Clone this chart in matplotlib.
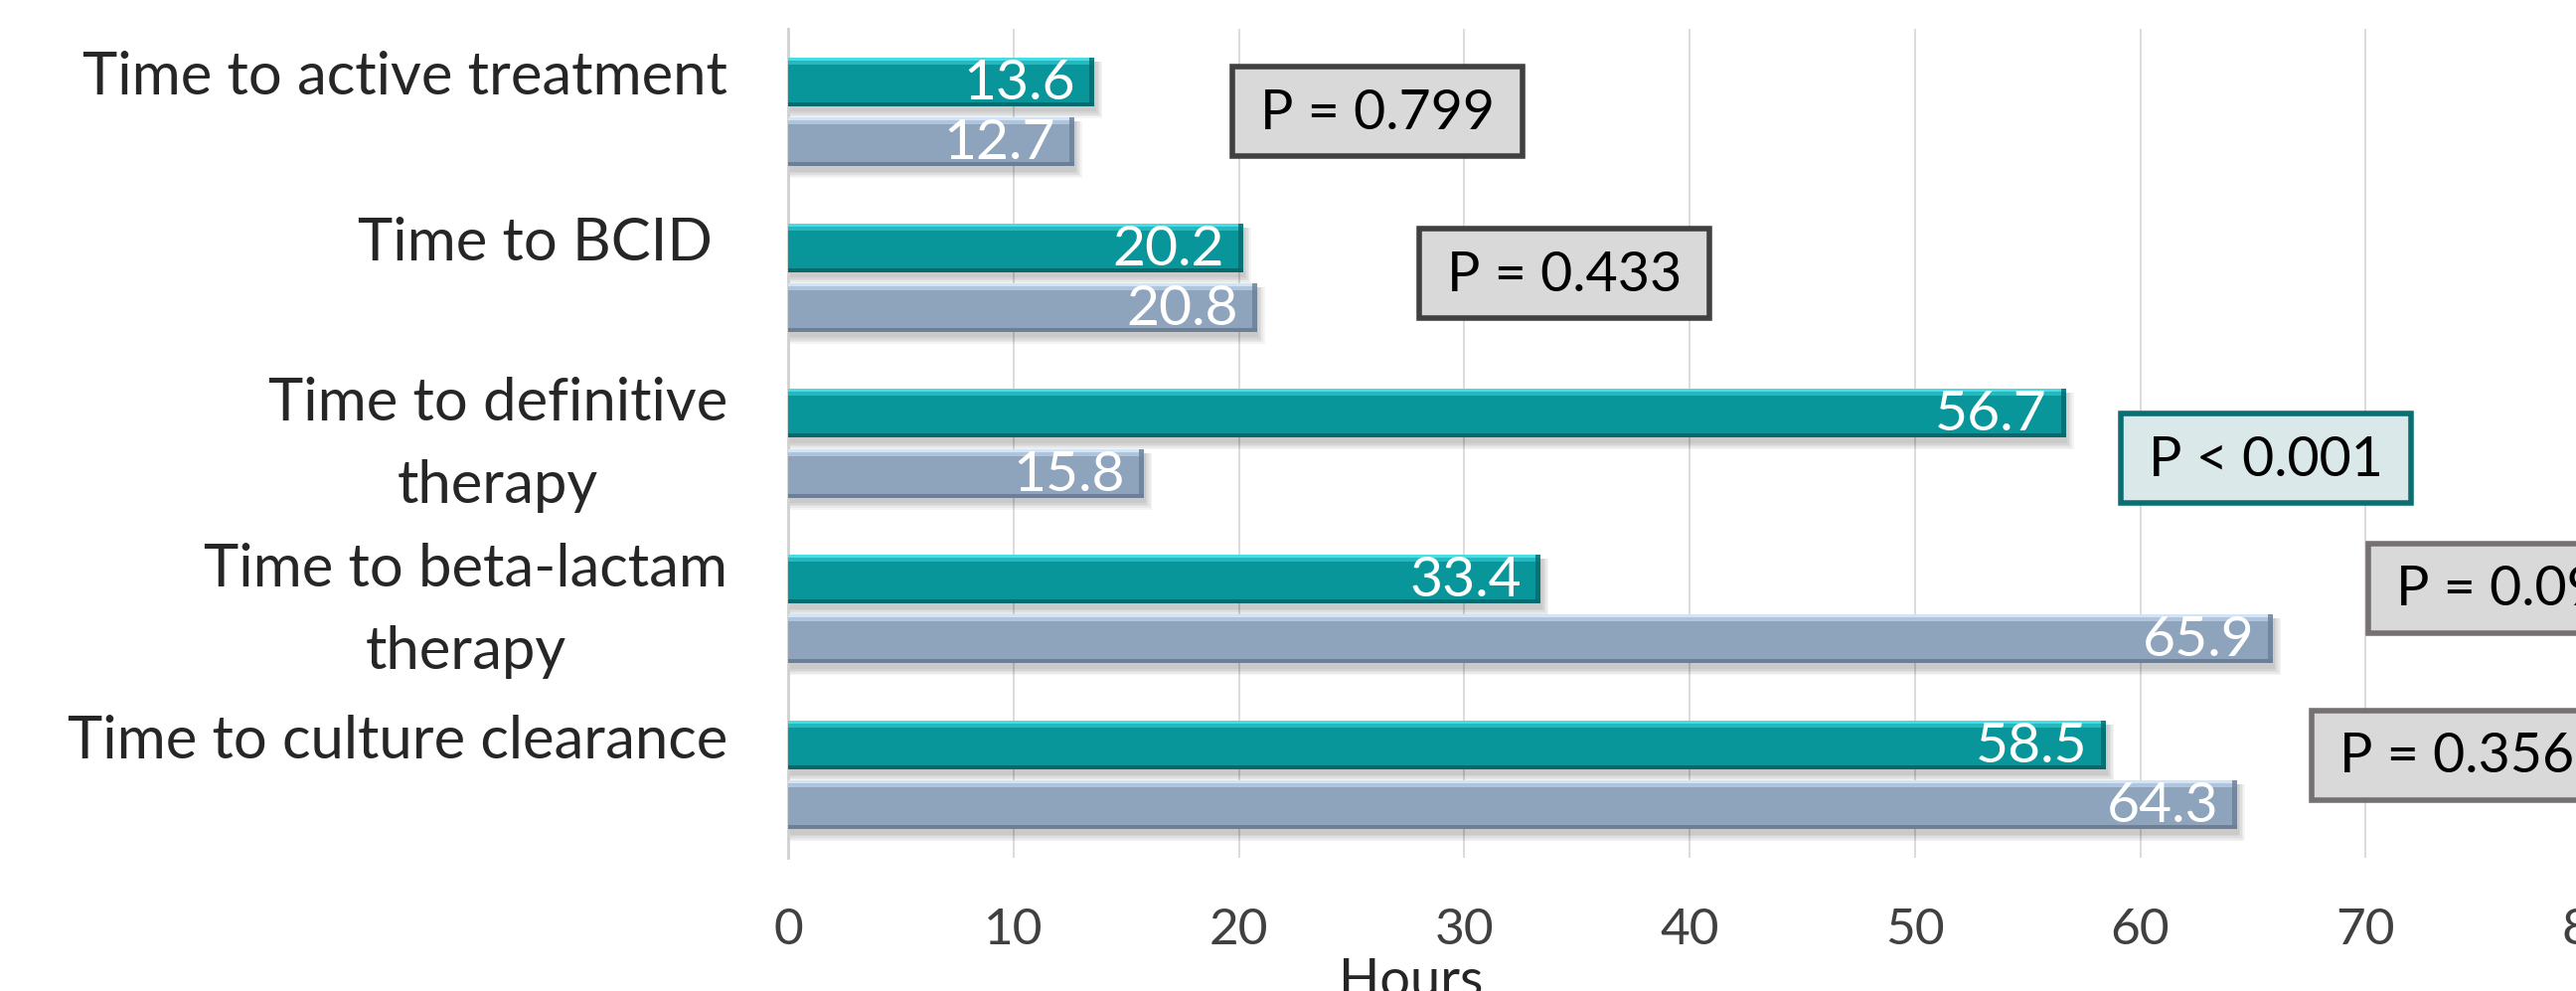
import numpy as np
import matplotlib.pyplot as plt
from matplotlib.patches import Rectangle

# hours per outcome, two groups
categories = ["Time to active treatment", "Time to BCID ", "Time to definitive\ntherapy",
              "Time to beta-lactam\ntherapy", "Time to culture clearance"]
teal_hours = [13.6, 20.2, 56.7, 33.4, 58.5]
gray_hours = [12.7, 20.8, 15.8, 65.9, 64.3]
p_labels = ["P = 0.799", "P = 0.433", "P < 0.001", "P = 0.09", "P = 0.356"]
x_ticks = [0, 10, 20, 30, 40, 50, 60, 70, 80]

# where each p-value box sits (hours, category row)
p_box_x = [19.7, 28.0, 59.15, 70.1, 67.6]
p_box_y = [0.0, 0.975, 2.09, 2.875, 3.88]
p_box_edge = ["#404040", "#404040", "#0b6e72", "#767171", "#767171"]
p_box_face = ["#d9d9d9", "#d9d9d9", "#dae8ea", "#d9d9d9", "#d9d9d9"]

W, H = 2592, 997
plt.rcParams['font.family'] = ['Lato', 'DejaVu Sans']

fig = plt.figure(figsize=(W / 100, H / 100), dpi=100)
ax = fig.add_axes([793 / W, (H - 863) / H, (2607 - 793) / W, (863 - 29) / H])
ax.set_xlim(0, 80)
ax.set_ylim(4.5, -0.5)

px_x = 80 / (2607 - 793)   # hours per pixel
px_y = 5 / (863 - 29)      # rows per pixel

bar_h = 0.294
offset = 0.18


def bevel_bar(yc, width, base, light, mid, dark):
    top = yc - bar_h / 2
    bot = yc + bar_h / 2
    # soft drop shadow
    for k in range(5):
        grow = (k + 1) * 1.6
        ax.add_patch(Rectangle((0, top + 4 * px_y), width + grow * px_x,
                               bar_h + grow * px_y, facecolor='black',
                               alpha=0.045, lw=0, zorder=2))
    ax.barh(yc, width, height=bar_h, color=base, zorder=3)
    ax.barh(top + 1.5 * px_y, width, height=3 * px_y, color=light, zorder=4)
    ax.barh(top + 5 * px_y, width, height=4 * px_y, color=mid, zorder=4)
    ax.barh(bot - 2 * px_y, width, height=4 * px_y, color=dark, zorder=4)
    ax.barh(yc, 5 * px_x, left=width - 5 * px_x, height=bar_h, color=dark,
            alpha=0.8, zorder=4)


ys = np.arange(len(categories))
for y, tv, gv in zip(ys, teal_hours, gray_hours):
    bevel_bar(y - offset, tv, '#08969b', '#48dde5', '#26b8bf', '#05696d')
    bevel_bar(y + offset, gv, '#8ea3bc', '#d2e4f8', '#b0c4dc', '#6c7f97')
    ax.text(tv - 19 * px_x, y - offset + 2 * px_y, f"{tv}", ha='right', va='center',
            color='white', fontsize=41, zorder=5)
    ax.text(gv - 19 * px_x, y + offset + 2 * px_y, f"{gv}", ha='right', va='center',
            color='white', fontsize=41, zorder=5)

# category names: first line sits a little above the group centre,
# baseline alignment anchors the last line, so step down per extra line
line_step = 77
for y, name in zip(ys, categories):
    extra = name.count("\n")
    ax.text(-61 / 1814, y + (extra * line_step - 17) * px_y, name,
            transform=ax.get_yaxis_transform(), ha='right', va='baseline',
            multialignment='center', linespacing=1.66, fontsize=43, color='#262626')

# p-value boxes
box_w = 292 * px_x
box_h = 90 * px_y
for lbl, bx, by, ec, fc in zip(p_labels, p_box_x, p_box_y, p_box_edge, p_box_face):
    ax.add_patch(Rectangle((bx, by - box_h / 2), box_w, box_h, facecolor=fc,
                           edgecolor=ec, lw=4, clip_on=False, zorder=6))
    ax.text(bx + 28 * px_x, by + 2 * px_y, lbl, ha='left', va='center', fontsize=40,
            color='black', clip_on=False, zorder=7)

ax.set_xticks(x_ticks)
ax.set_yticks([])
ax.tick_params(axis='x', length=0, pad=36, labelsize=37, labelcolor='#404040')

ax.grid(axis='x', color='#d9d9d9', lw=1.3, zorder=0)
ax.set_axisbelow(True)
for s in ['top', 'right', 'bottom']:
    ax.spines[s].set_visible(False)
ax.spines['left'].set_color('#d0d0d0')
ax.spines['left'].set_linewidth(2)

ax.set_xlabel('Hours', fontsize=39, color='#262626')
ax.xaxis.set_label_coords(627 / 1814, -100 / 834)

fig.savefig('out.png', dpi=100)
